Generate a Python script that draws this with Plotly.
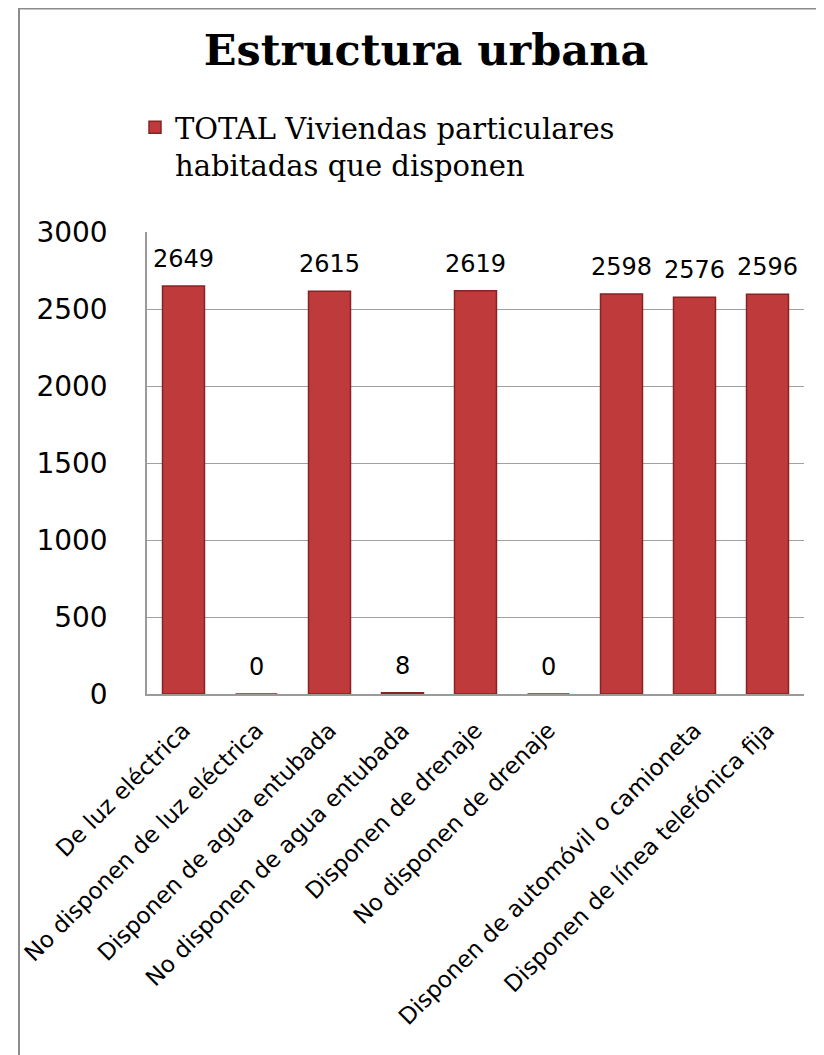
import plotly.graph_objects as go

categories = [
    "De luz eléctrica",
    "No disponen de luz eléctrica",
    "Disponen de agua entubada",
    "No disponen de agua entubada",
    "Disponen de drenaje",
    "No disponen de drenaje",
    " ",
    "Disponen de automóvil o camioneta",
    "Disponen de línea telefónica fija",
]
values = [2649, 0, 2615, 8, 2619, 0, 2598, 2576, 2596]
series_name = "TOTAL Viviendas particulares<br>habitadas que disponen"
title_text = "Estructura urbana"
y_ticks = [0, 500, 1000, 1500, 2000, 2500, 3000]

W, H = 824, 1055
# page is offset by the 8px body margin; coordinates below are figure pixels
L, T = 139, 224
plot_right, plot_bottom = 796, 686
R, B = W - plot_right, H - plot_bottom
pw = plot_right - L
ph = plot_bottom - T

def px_x(px):
    return (px - L) / pw

def px_y(py):
    return (plot_bottom - py) / ph

fig = go.Figure()
fig.add_trace(go.Bar(
    x=categories,
    y=values,
    name=series_name,
    marker=dict(color="#bf3a3a", line=dict(color="#862424", width=1.5)),
    showlegend=True,
))

for c, v in zip(categories, values):
    fig.add_annotation(
        x=c, y=v, text=str(v), showarrow=False,
        yanchor="bottom", yshift=11,
        font=dict(family="DejaVu Sans", size=24, color="black"),
    )

fig.add_shape(
    type="rect", xref="paper", yref="paper",
    x0=px_x(11), x1=px_x(W + 20), y0=px_y(H + 20), y1=px_y(0.5),
    line=dict(color="#8c8c8c", width=2), fillcolor="rgba(0,0,0,0)",
    layer="below",
)

fig.update_layout(
    width=W, height=H,
    margin=dict(l=L, r=R, t=T, b=B),
    paper_bgcolor="white", plot_bgcolor="white",
    bargap=0.425,
    title=dict(
        text=title_text, x=418 / W, xanchor="center",
        y=1 - 42 / H, yanchor="middle", yref="container",
        font=dict(family="DejaVu Serif", size=43, color="black", weight="bold"),
    ),
    legend=dict(
        x=px_x(127), xanchor="left", y=px_y(94), yanchor="top",
        font=dict(family="DejaVu Serif", size=29, color="black"),
        valign="top", bgcolor="rgba(0,0,0,0)",
    ),
    xaxis=dict(
        type="category", tickangle=-45,
        tickfont=dict(family="DejaVu Sans", size=23, color="black"),
        showline=True, linecolor="#9a9a9a", linewidth=1.5,
        showgrid=False, ticks="", ticklabelstandoff=12,
    ),
    yaxis=dict(
        range=[0, 3000], tickvals=y_ticks,
        tickfont=dict(family="DejaVu Sans", size=28, color="black"),
        showgrid=True, gridcolor="#a0a0a0", gridwidth=1.2,
        showline=True, linecolor="#9a9a9a", linewidth=1.5,
        zeroline=False, ticks="", ticklabelstandoff=32,
    ),
)

fig.write_html("out.html")
